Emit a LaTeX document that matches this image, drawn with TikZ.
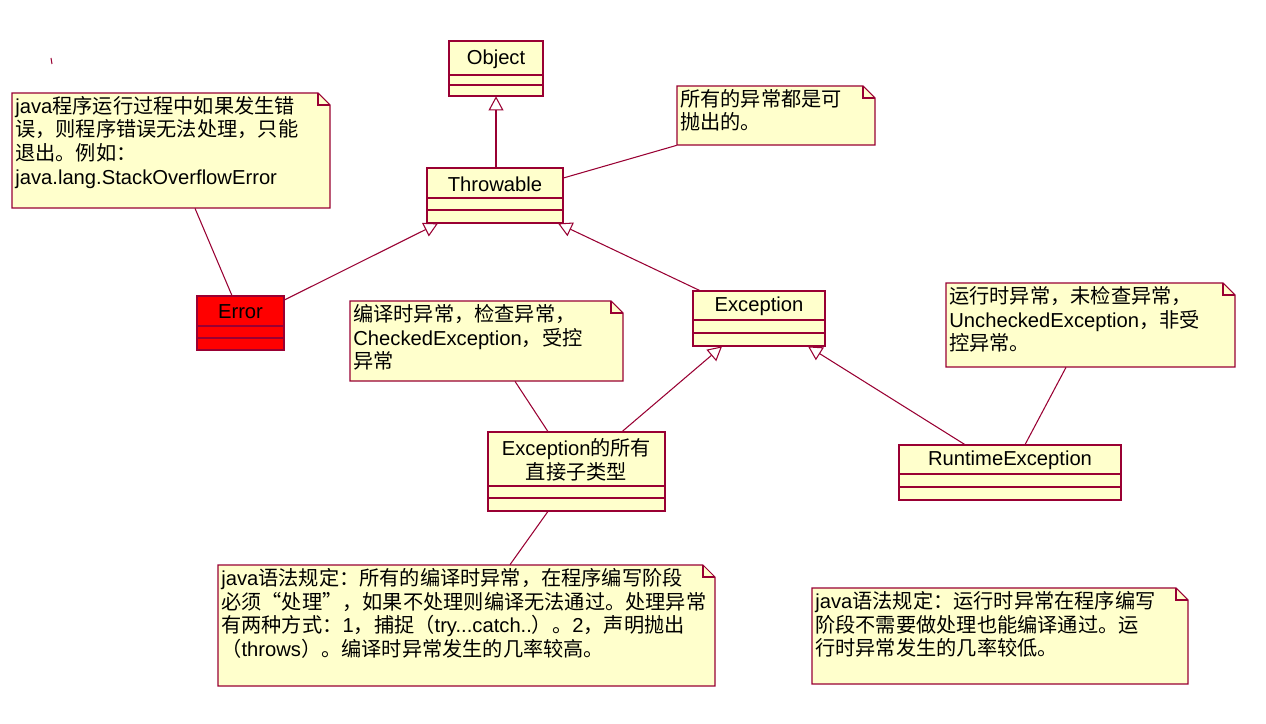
\documentclass[tikz,border=0pt]{standalone}
\usepackage{fontspec}
\setmainfont{Liberation Sans}
\newfontfamily\cjk{Noto Sans CJK SC}[Scale=1.0]
\usetikzlibrary{arrows.meta,fit}
\definecolor{bd}{RGB}{153,0,51}
\definecolor{yl}{RGB}{255,255,204}
\newcommand\C[1]{{\cjk #1}}
\tikzset{cls/.style={draw=bd,line width=0.6pt},
 inh/.style={draw=bd,line width=0.6pt,-{Triangle[open,length=8pt,width=8.5pt,fill=white]}},
 nl/.style={draw=bd,line width=0.6pt},
 txt/.style={inner sep=0,font=\fontsize{11.5}{13.4}\selectfont}}
\newcommand\classbox[9]{%
 \draw[cls,fill=#8] (#2,#3) rectangle (#4,#5);
 \draw[cls] (#2,#6)--(#4,#6) (#2,#7)--(#4,#7);
 \node[fit={(#2,#3)(#4,#5)},inner sep=0] (#1) {};
 \node[txt,align=center] at ({(#2+#4)/2},{(#3+#6)/2+1}) {#9};}
\newcommand\notebox[6]{%
 \draw[cls,fill=yl] (#2,#3)--({#4-12},#3)--(#4,{#3+12})--(#4,#5)--(#2,#5)--cycle;
 \draw[cls] ({#4-12},#3)--({#4-12},{#3+12})--(#4,{#3+12});
 \node[fit={(#2,#3)(#4,#5)},inner sep=0] (#1) {};
 \node[txt,align=left,anchor=north west] at ({#2+3},{#3+3}) {#6};}
\begin{document}
\begin{tikzpicture}[x=0.02cm,y=-0.02cm]
\useasboundingbox[fill=white] (0,0) rectangle (1266,723);
\draw[nl] (51,58)--(52,64);
\classbox{obj}{449}{41}{543}{96}{75}{85}{yl}{Object}
\classbox{thr}{427}{168}{563}{223}{198}{210}{yl}{Throwable}
\classbox{err}{197}{296}{284}{350}{326}{338}{red}{Error}
\classbox{exc}{693}{291}{825}{346}{320}{333}{yl}{Exception}
\classbox{sub}{488}{432}{665}{511}{486}{498}{yl}{Exception\C{的所有}\\\C{直接子类型}}
\classbox{rte}{899}{445}{1121}{500}{474}{487}{yl}{RuntimeException}
\notebox{n1}{12}{93}{330}{208}{java\C{程序运行过程中如果发生错}\\\C{误，则程序错误无法处理，只能}\\\C{退出。例如：}\\java.lang.StackOverflowError}
\notebox{n2}{677}{86}{875}{145}{\C{所有的异常都是可}\\\C{抛出的。}}
\notebox{n3}{350}{301}{623}{381}{\C{编译时异常，检查异常，}\\CheckedException\C{，受控}\\\C{异常}}
\notebox{n4}{946}{283}{1235}{367}{\C{运行时异常，未检查异常，}\\UncheckedException\C{，非受}\\\C{控异常。}}
\notebox{n5}{218}{565}{715}{686}{java\C{语法规定：所有的编译时异常，在程序编写阶段}\\\C{必须“处理”，如果不处理则编译无法通过。处理异常}\\\C{有两种方式：}1\C{，捕捉（}try...catch..\C{）。}2\C{，声明抛出}\\\C{（}throws\C{）。编译时异常发生的几率较高。}}
\notebox{n6}{812}{588}{1188}{684}{java\C{语法规定：运行时异常在程序编写}\\\C{阶段不需要做处理也能编译通过。运}\\\C{行时异常发生的几率较低。}}
\draw[inh] (thr.north -| 496,0) -- (obj.south -| 496,0);
\draw[inh] (err.north east |- 0,300) -- (thr.south -| 438,0);
\draw[inh] (exc.north -| 700,0) -- (thr.south -| 558,0);
\draw[inh] (sub.north -| 622,0) -- (exc.south -| 722,0);
\draw[inh] (rte.north -| 965,0) -- (exc.south -| 808,0);
\draw[nl] (n1.south -| 195,0) -- (err.north -| 232,0);
\draw[nl] (n2.south west) -- (thr.east |- 0,178);
\draw[nl] (n3.south -| 515,0) -- (sub.north -| 548,0);
\draw[nl] (n4.south -| 1066,0) -- (rte.north -| 1025,0);
\draw[nl] (n5.north -| 510,0) -- (sub.south -| 548,0);
\end{tikzpicture}
\end{document}
